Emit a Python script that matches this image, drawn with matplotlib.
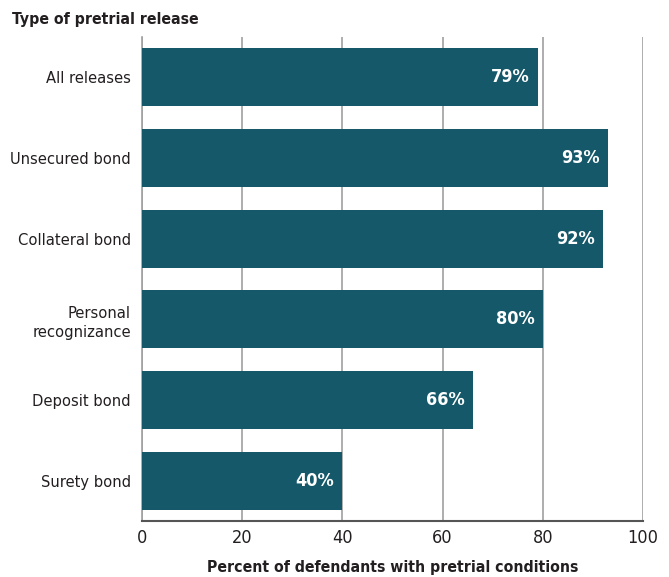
import matplotlib
matplotlib.use('Agg')
import matplotlib.pyplot as plt

plt.rcParams['font.family'] = ['DejaVu Sans']
plt.rcParams['font.stretch'] = 'condensed'

categories = ['All releases', 'Unsecured bond', 'Collateral bond',
              'Personal\nrecognizance', 'Deposit bond', 'Surety bond']
values = [79, 93, 92, 80, 66, 40]
xticks = [0, 20, 40, 60, 80, 100]

bar_color = '#14586a'

fig = plt.figure(figsize=(6.69, 5.77), dpi=100)
ax = fig.add_axes([0.2123, 0.097, 0.7487, 0.839])

pos = list(range(len(categories)))
ax.barh(pos, values, height=0.72, color=bar_color, zorder=3)

for p, v in zip(pos, values):
    ax.text(v - 1.6, p, f'{v}%', ha='right', va='center', color='white',
            fontsize=13, fontweight='bold', zorder=4)

ax.set_xlim(0, 100)
ax.set_ylim(5.5, -0.5)
ax.set_yticks(pos)
ax.set_yticklabels(categories, fontsize=11.8, color='#231f20', linespacing=1.35)
ax.set_xticks(xticks)
ax.set_xticklabels([str(t) for t in xticks], fontsize=13, color='#231f20')
ax.tick_params(axis='y', length=0, pad=8)
ax.tick_params(axis='x', length=0, pad=6)

ax.xaxis.grid(True, color='#a0a0a0', linewidth=1.2, zorder=0)
for s in ['top', 'right']:
    ax.spines[s].set_visible(False)
ax.spines['left'].set_color('#a0a0a0')
ax.spines['left'].set_linewidth(1.2)
ax.spines['bottom'].set_color('#555555')
ax.spines['bottom'].set_linewidth(1.5)

ax.set_xlabel('Percent of defendants with pretrial conditions', fontsize=11.3,
              fontweight='bold', color='#231f20', labelpad=9)
fig.text(0.018, 0.967, 'Type of pretrial release', fontsize=11.3,
         fontweight='bold', color='#231f20', ha='left', va='center')

fig.savefig('out.png', dpi=100)
